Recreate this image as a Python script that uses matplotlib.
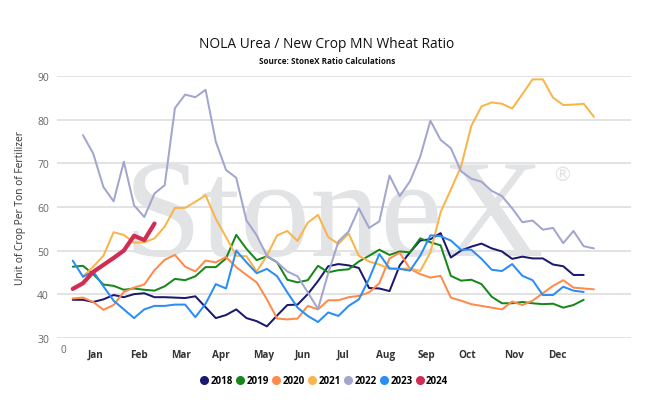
import matplotlib
matplotlib.use("Agg")
import matplotlib.pyplot as plt
from matplotlib.lines import Line2D
import numpy as np

plt.rcParams['font.family'] = ['Open Sans', 'DejaVu Sans']

# ---------------- data ----------------
weeks = list(range(52))
s2018 = [38.7, 38.7, 38.2, 38.8, 39.8, 39.3, 40.0, 40.2, 39.3, 39.3, 39.2, 39.1, 39.5, 37.0,
         34.5, 35.2, 36.5, 34.5, 33.8, 32.6, 35.1, 37.5, 37.6, 40.0, 43.0, 46.4, 46.9, 46.6,
         46.0, 41.4, 41.3, 40.7, 46.6, 49.6, 52.3, 52.6, 54.0, 48.4, 50.0, 50.9, 51.6, 50.5,
         49.8, 48.1, 48.6, 48.2, 48.2, 46.8, 46.4, 44.4, 44.4, None]
s2019 = [46.3, 46.5, 44.6, 42.2, 41.9, 41.0, 41.3, 41.0, 40.8, 41.8, 43.5, 43.2, 44.1, 46.2,
         46.2, 48.2, 53.6, 50.4, 47.8, 48.7, 47.3, 43.3, 42.7, 43.2, 46.5, 45.0, 45.5, 45.7,
         47.5, 48.8, 50.2, 49.0, 49.8, 49.6, 52.8, 51.9, 51.2, 44.2, 43.1, 43.3, 42.3, 39.4,
         37.9, 37.9, 38.2, 37.9, 37.7, 37.8, 36.9, 37.5, 38.7, None]
s2020 = [39.0, 39.2, 38.2, 36.4, 37.5, 40.5, 41.5, 42.2, 45.5, 47.9, 49.0, 46.3, 45.2, 47.7,
         47.3, 48.5, 46.2, 44.4, 42.7, 38.8, 34.4, 34.2, 34.4, 37.3, 36.5, 38.6, 38.6, 39.3,
         39.6, 40.4, 42.5, 48.2, 49.5, 45.8, 44.6, 43.8, 44.2, 39.2, 38.5, 37.7, 37.3, 36.9,
         36.5, 38.3, 37.5, 38.5, 40.2, 41.9, 43.2, 41.5, 41.3, 41.1]
s2021 = [None, 44.0, 46.3, 48.8, 54.2, 53.6, 51.8, 51.9, 52.8, 55.5, 59.8, 59.8, 61.2, 62.7,
         57.3, 53.1, 48.8, 48.7, 45.2, 48.8, 53.5, 54.5, 52.2, 56.4, 58.2, 53.1, 51.5, 53.9,
         48.8, 47.5, 46.8, 45.8, 45.8, 45.9, 45.3, 49.6, 58.8, 64.0, 69.3, 78.6, 83.1, 84.0,
         83.7, 82.6, 85.9, 89.3, 89.3, 85.1, 83.4, 83.5, 83.7, 80.7]
s2022 = [None, 76.5, 72.3, 64.6, 61.3, 70.4, 60.4, 57.7, 63.1, 65.0, 82.7, 85.8, 85.2, 86.9,
         75.0, 68.5, 66.7, 56.9, 53.5, 48.8, 47.3, 45.2, 44.1, 40.4, 36.6, 44.8, 52.1, 54.4,
         59.7, 55.2, 56.7, 67.2, 62.5, 65.9, 71.5, 79.8, 75.4, 73.5, 68.2, 66.5, 65.8, 63.7,
         62.5, 59.7, 56.5, 56.9, 54.8, 55.2, 51.7, 54.5, 51.0, 50.5]
s2023 = [47.7, 44.0, 45.2, 41.8, 38.5, 36.5, 34.5, 36.5, 37.3, 37.3, 37.6, 37.6, 34.7, 37.8,
         42.3, 41.3, 50.0, 47.3, 44.8, 45.8, 44.1, 40.4, 36.9, 35.0, 33.6, 35.8, 35.0, 37.3,
         38.8, 43.5, 49.2, 45.9, 45.8, 45.4, 48.8, 53.5, 53.3, 52.3, 50.2, 50.2, 48.1, 45.6,
         45.3, 46.9, 44.2, 43.2, 39.8, 39.8, 41.7, 40.8, 40.5, None]
s2024 = [41.2, 42.5, 45.1, 46.7, 48.3, 50.0, 53.4, 52.4, 56.2] + [None] * 43

years = ['2018', '2019', '2020', '2021', '2022', '2023', '2024']
series = [s2018, s2019, s2020, s2021, s2022, s2023, s2024]
month_labels = ['Jan', 'Feb', 'Mar', 'Apr', 'May', 'Jun', 'Jul', 'Aug', 'Sep', 'Oct', 'Nov', 'Dec']
y_ticks = [30, 40, 50, 60, 70, 80, 90]

# ---------------- layout / style ----------------
colors = ['#191970', '#16881a', '#ff8a4c', '#f9b44a', '#a2a5cf', '#2a8df5', '#d12c54']
widths = [2.0, 2.0, 2.0, 2.0, 2.0, 2.0, 4.2]
month_pos = [2.2, 6.5, 10.57, 14.51, 18.65, 22.5, 26.42, 30.63, 34.57, 38.58, 43.2, 47.42]

fig = plt.figure(figsize=(6.56, 4.10), dpi=100)
ax = fig.add_axes([57.3 / 656, 1 - 338.7 / 410, (630.7 - 57.3) / 656, (338.7 - 77.3) / 410])
ax.set_xlim(-1.51, 54.6)
ax.set_ylim(30, 90)

for sp in ax.spines.values():
    sp.set_visible(False)

ax.set_yticks(y_ticks)
ax.yaxis.grid(True, color='#e3e3e3', linewidth=1.4, zorder=0)
ax.set_axisbelow(True)
ax.tick_params(axis='y', length=0, labelsize=7.5, labelcolor='#666666', pad=6)

ax.set_xticks([-0.92] + month_pos)
ax.set_xticklabels(['0'] + month_labels)
ax.tick_params(axis='x', length=0, labelsize=7.2, labelcolor='#333333', pad=8)
for i, lab in enumerate(ax.get_xticklabels()):
    if i == 0:
        lab.set_color('#666666')
        lab.set_position((0, 0.02))
    else:
        lab.set_fontweight('bold')

# watermark
ax.text(0.4826, 0.316, 'StoneX', transform=ax.transAxes, ha='center', va='baseline',
        fontsize=101, family='Liberation Serif', color='#e2e3e5', zorder=0.5)
ax.text(0.88, 0.625, '\u00ae', transform=ax.transAxes, ha='center', va='center',
        fontsize=14, family='DejaVu Sans', color='#e2e3e5', zorder=0.5)

x = np.array(weeks)
for yr, s, c, w in zip(years, series, colors, widths):
    y = np.array([np.nan if v is None else v for v in s], dtype=float)
    ax.plot(x, y, color=c, linewidth=w * 0.72, solid_joinstyle='round', solid_capstyle='round', zorder=2)

ax.set_ylabel('Unit of Crop Per Ton of Fertilizer', fontsize=7.4, color='#333333', labelpad=8)

fig.text(326.7 / 656, 1 - 44 / 410, 'NOLA Urea / New Crop MN Wheat Ratio', ha='center', va='center',
         fontsize=9.9, color='#111111')
fig.text(326.7 / 656, 1 - 61.5 / 410, 'Source: StoneX Ratio Calculations', ha='center', va='center',
         fontsize=5.9, fontweight='bold', color='#111111')

handles = [Line2D([], [], linestyle='none', marker='o', markersize=5.5, color=c) for c in colors]
fig.legend(handles, years, loc='center', bbox_to_anchor=(324.5 / 656, 1 - 382 / 410), ncol=7,
           frameon=False, handletextpad=0.3, columnspacing=0.4, handlelength=0.7,
           prop={'weight': 'bold', 'size': 7.0})

fig.savefig('out.png', dpi=100)
